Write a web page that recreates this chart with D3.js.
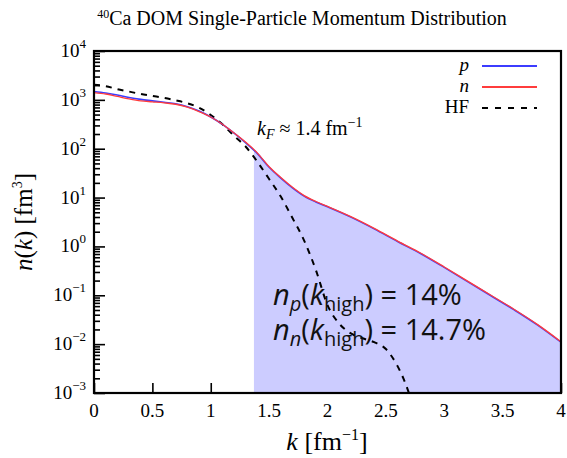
<!DOCTYPE html>
<html>
<head>
<meta charset="utf-8">
<script src="https://cdn.jsdelivr.net/npm/d3@7"></script>
<style>
  html, body { margin: 0; padding: 0; background: #fff; }
  svg { display: block; }
  .serif { font-family: "Liberation Serif", "DejaVu Serif", serif; }
  .sans { font-family: "Open Sans", "Noto Sans", "DejaVu Sans", sans-serif; }
</style>
</head>
<body>
<svg id="chart" width="567" height="458"></svg>
<script>
// Momentum grid (fm^-1) and log10 of the DOM momentum distributions
const kGrid = [0, 0.1, 0.2, 0.3, 0.4, 0.5, 0.6, 0.7, 0.8, 0.9, 1.0, 1.1, 1.2, 1.3, 1.4, 1.5, 1.6, 1.7, 1.8, 1.9, 2.0, 2.2, 2.4, 2.6, 2.8, 3.0, 3.2, 3.4, 3.6, 3.8, 4.0];
const protonLog = [3.17, 3.14, 3.10, 3.05, 3.01, 2.98, 2.95, 2.92, 2.86, 2.77, 2.65, 2.50, 2.32, 2.12, 1.90, 1.62, 1.40, 1.20, 1.03, 0.91, 0.81, 0.60, 0.36, 0.10, -0.15, -0.43, -0.72, -1.01, -1.30, -1.61, -1.96];
const neutronLog = [3.15, 3.12, 3.07, 3.02, 2.98, 2.96, 2.94, 2.91, 2.85, 2.76, 2.65, 2.50, 2.32, 2.13, 1.91, 1.63, 1.41, 1.21, 1.04, 0.92, 0.82, 0.61, 0.37, 0.11, -0.14, -0.42, -0.71, -1.00, -1.29, -1.60, -1.95];

// Hartree-Fock reference distribution (log10)
const hfK = [0, 0.1, 0.2, 0.3, 0.4, 0.5, 0.6, 0.7, 0.8, 0.9, 1.0, 1.1, 1.2, 1.3, 1.4, 1.5, 1.6, 1.7, 1.8, 1.9, 2.0, 2.1, 2.2, 2.3, 2.4, 2.5, 2.6, 2.65, 2.7, 2.75];
const hfLog = [3.31, 3.28, 3.22, 3.17, 3.12, 3.08, 3.04, 2.99, 2.93, 2.84, 2.69, 2.50, 2.26, 2.04, 1.73, 1.38, 1.02, 0.58, 0.12, -0.48, -1.20, -1.58, -1.78, -1.88, -1.96, -2.10, -2.45, -2.70, -3.02, -3.40];

// High-momentum region boundary and quoted fractions
const kHighStart = 1.37;
const highFractions = [
  { label: "p", value: "14%" },
  { label: "n", value: "14.7%" }
];

const xTicks = [0, 0.5, 1, 1.5, 2, 2.5, 3, 3.5, 4];
const xTickLabels = ["0", "0.5", "1", "1.5", "2", "2.5", "3", "3.5", "4"];
const yExponents = [4, 3, 2, 1, 0, -1, -2, -3];

const svg = d3.select("#chart");
const margin = { left: 94, right: 6, top: 51, bottom: 65 };
const W = 567, H = 458;
const x0 = margin.left, x1 = W - margin.right, y0 = margin.top, y1 = H - margin.bottom;

const x = d3.scaleLinear().domain([0, 4]).range([x0, x1]);
const y = d3.scaleLog().domain([1e-3, 1e4]).range([y1, y0]);

const toPts = (ks, logs) => ks.map((k, i) => ({ k, v: Math.pow(10, logs[i]) }));
const pData = toPts(kGrid, protonLog);
const nData = toPts(kGrid, neutronLog);
const hfData = toPts(hfK, hfLog);

svg.append("defs").append("clipPath").attr("id", "plotClip")
  .append("rect").attr("x", x0).attr("y", y0).attr("width", x1 - x0).attr("height", y1 - y0);

// Y axis ticks: decades and minor log ticks, pointing inward
const majorY = yExponents.map(e => Math.pow(10, e));
const minorY = [];
for (let e = -3; e < 4; e++) for (let m = 2; m <= 9; m++) minorY.push(m * Math.pow(10, e));

const yAxisMajor = d3.axisLeft(y).tickValues(majorY).tickSize(-11).tickFormat("");
const yAxisMinor = d3.axisLeft(y).tickValues(minorY).tickSize(-6).tickFormat("");
[yAxisMajor, yAxisMinor].forEach(ax => {
  const g = svg.append("g").attr("transform", `translate(${x0},0)`).call(ax);
  g.select(".domain").remove();
  g.selectAll("line").attr("stroke", "#000").attr("stroke-width", 1.6);
});

// X axis ticks
const xAxis = d3.axisBottom(x).tickValues(xTicks).tickSize(-10).tickFormat("");
const gx = svg.append("g").attr("transform", `translate(0,${y1})`).call(xAxis);
gx.select(".domain").remove();
gx.selectAll("line").attr("stroke", "#000").attr("stroke-width", 1.6);

// Shaded high-momentum region under the distribution
const interpLog = (k) => {
  const i = d3.bisectRight(kGrid, k) - 1;
  const t = (k - kGrid[i]) / (kGrid[i + 1] - kGrid[i]);
  return neutronLog[i] + t * (neutronLog[i + 1] - neutronLog[i]);
};
const fillData = [{ k: kHighStart, v: Math.pow(10, interpLog(kHighStart)) }]
  .concat(nData.filter(d => d.k > kHighStart));
svg.append("path")
  .datum(fillData)
  .attr("clip-path", "url(#plotClip)")
  .attr("fill", "#ccccff")
  .attr("d", d3.area().x(d => x(d.k)).y0(y1).y1(d => y(d.v)).curve(d3.curveMonotoneX));

// Distribution curves
const line = d3.line().x(d => x(d.k)).y(d => y(d.v)).curve(d3.curveMonotoneX);
const plot = svg.append("g").attr("clip-path", "url(#plotClip)");
plot.append("path").datum(hfData).attr("fill", "none").attr("stroke", "#000")
  .attr("stroke-width", 2).attr("stroke-dasharray", "6,6").attr("d", line);
plot.append("path").datum(pData).attr("fill", "none").attr("stroke", "#3c3cff")
  .attr("stroke-width", 1.6).attr("d", line);
plot.append("path").datum(nData).attr("fill", "none").attr("stroke", "#ff3c3c")
  .attr("stroke-width", 1.3).attr("d", line);

// Frame
svg.append("rect").attr("x", x0).attr("y", y0).attr("width", x1 - x0).attr("height", y1 - y0)
  .attr("fill", "none").attr("stroke", "#000").attr("stroke-width", 2.2);

// Tick labels
svg.append("g").selectAll("text").data(xTicks).join("text")
  .attr("class", "serif").attr("x", d => x(d)).attr("y", y1 + 24)
  .attr("text-anchor", "middle").attr("font-size", 19)
  .text((d, i) => xTickLabels[i]);

const yl = svg.append("g").selectAll("text").data(yExponents).join("text")
  .attr("class", "serif").attr("x", x0 - 8).attr("y", e => y(Math.pow(10, e)) + 6)
  .attr("text-anchor", "end").attr("font-size", 19);
yl.append("tspan").text("10");
yl.append("tspan").attr("dy", -9).attr("font-size", 13)
  .text(e => e < 0 ? "\u2212" + (-e) : String(e));

// Axis titles
const xt = svg.append("text").attr("class", "serif").attr("x", 327).attr("y", 450)
  .attr("text-anchor", "middle").attr("font-size", 26);
xt.append("tspan").attr("font-style", "italic").text("k");
xt.append("tspan").text(" [fm");
xt.append("tspan").attr("dy", -10).attr("font-size", 16).text("\u22121");
xt.append("tspan").attr("dy", 10).text("]");

const yt = svg.append("text").attr("class", "serif")
  .attr("transform", "translate(32,222) rotate(-90)")
  .attr("text-anchor", "middle").attr("font-size", 25);
yt.append("tspan").attr("font-style", "italic").text("n");
yt.append("tspan").text("(");
yt.append("tspan").attr("font-style", "italic").text("k");
yt.append("tspan").text(") [fm");
yt.append("tspan").attr("dy", -10).attr("font-size", 14).text("3");
yt.append("tspan").attr("dy", 10).text("]");

// Title
const title = svg.append("text").attr("class", "serif").attr("x", 302).attr("y", 25)
  .attr("text-anchor", "middle").attr("font-size", 20);
title.append("tspan").attr("dy", -7).attr("font-size", 12).text("40");
title.append("tspan").attr("dy", 7).text("Ca DOM Single-Particle Momentum Distribution");

// Legend
const legend = [
  { name: "p", color: "#3c3cff", dash: null, y: 66 },
  { name: "n", color: "#ff3c3c", dash: null, y: 87 },
  { name: "HF", color: "#000", dash: "6,7", y: 108 }
];
const lg = svg.append("g");
legend.forEach(d => {
  lg.append("text").attr("class", "serif").attr("x", 469).attr("y", d.y + 5)
    .attr("text-anchor", "end").attr("font-size", 19)
    .attr("font-style", d.name === "HF" ? "normal" : "italic").text(d.name);
  lg.append("line").attr("x1", 482).attr("x2", 537).attr("y1", d.y).attr("y2", d.y)
    .attr("stroke", d.color).attr("stroke-width", d.dash ? 1.8 : 2)
    .attr("stroke-dasharray", d.dash);
});

// Fermi momentum annotation
const kf = svg.append("text").attr("class", "serif").attr("x", 257).attr("y", 135).attr("font-size", 20);
kf.append("tspan").attr("font-style", "italic").text("k");
kf.append("tspan").attr("dy", 4).attr("font-size", 14).attr("font-style", "italic").text("F");
kf.append("tspan").attr("dy", -4).text(" \u2248 1.4 fm");
kf.append("tspan").attr("dy", -8).attr("font-size", 14).text("\u22121");

// High-momentum fractions
highFractions.forEach((d, i) => {
  const t = svg.append("text").attr("class", "sans").attr("x", 273).attr("y", 305 + i * 35)
    .attr("font-size", 29).attr("fill", "#111");
  t.append("tspan").attr("font-style", "italic").text("n");
  t.append("tspan").attr("dy", 6).attr("font-size", 20).attr("font-style", "italic").text(d.label);
  t.append("tspan").attr("dy", -6).text("(");
  t.append("tspan").attr("font-style", "italic").text("k");
  t.append("tspan").attr("dy", 6).attr("font-size", 20).text("high");
  t.append("tspan").attr("dy", -6).text(") = " + d.value);
});
</script>
</body>
</html>
